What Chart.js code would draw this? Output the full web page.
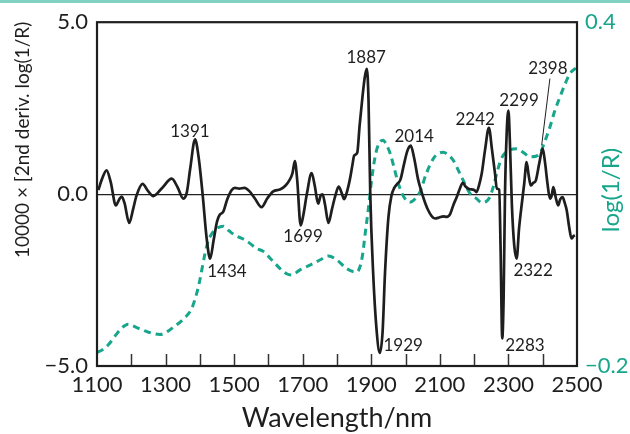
<!DOCTYPE html>
<html><head><meta charset="utf-8">
<script src="https://cdn.jsdelivr.net/npm/chart.js@4.4.1/dist/chart.umd.min.js"></script>
<style>html,body{margin:0;padding:0;background:#fff;} #wrap{width:630px;height:434px;}</style>
</head><body><div id="wrap"><canvas id="c" width="630" height="434"></canvas></div>
<script>
// 2nd derivative (x10000) spectrum
const derivNm = [1104,1115,1128,1140,1155,1165,1172,1180,1194,1205,1215,1233,1248,1264,1290,1318,1335,1352,1362,1372,1386,1396,1408,1420,1430,1440,1450,1458,1468,1480,1493,1502,1515,1530,1545,1560,1580,1597,1614,1635,1650,1661,1670,1677,1684,1694,1702,1712,1726,1735,1745,1752,1758,1765,1775,1785,1795,1805,1813,1821,1830,1838,1845,1850,1859,1866,1874,1881,1887,1892,1897,1905,1915,1925,1933,1940,1950,1959,1967,1976,1985,1995,2005,2015,2025,2036,2047,2058,2066,2076,2086,2098,2110,2120,2130,2140,2149,2158,2167,2175,2185,2200,2207,2214,2222,2232,2243,2252,2261,2266,2273,2277,2282,2286,2290,2295,2300,2304,2310,2317,2324,2331,2339,2346,2353,2359,2365,2372,2380,2390,2400,2407,2414,2421,2426,2431,2438,2445,2451,2458,2464,2470,2477,2484,2490,2494];
const derivVal = [0.12,0.45,0.69,0.35,-0.33,-0.15,-0.07,-0.25,-0.84,-0.45,-0.05,0.30,0.10,-0.06,0.18,0.45,0.20,-0.13,0.05,0.75,1.59,1.10,0.00,-1.30,-1.88,-1.35,-0.80,-0.60,-0.52,-0.15,0.12,0.18,0.16,0.18,0.08,-0.12,-0.38,-0.12,0.08,0.14,0.25,0.40,0.60,0.96,0.40,-0.91,-0.60,0.00,0.61,0.25,-0.28,-0.05,-0.01,-0.30,-0.84,-0.45,-0.05,0.22,0.05,-0.15,0.10,0.45,0.85,1.12,1.20,2.00,2.80,3.40,3.64,2.70,0.00,-2.20,-3.90,-4.62,-4.00,-2.30,-0.67,-0.04,0.18,0.30,0.42,0.85,1.25,1.41,1.05,0.45,0.05,-0.28,-0.47,-0.64,-0.71,-0.68,-0.65,-0.66,-0.58,-0.30,-0.09,0.15,0.33,0.22,0.15,0.12,0.06,0.25,0.59,1.30,1.93,1.30,0.59,0.16,0.13,-1.50,-4.20,-3.00,0.00,1.80,2.43,1.60,-0.30,-1.50,-1.88,-1.00,-0.28,0.30,0.93,0.55,0.25,0.32,0.40,0.90,1.32,0.90,0.30,-0.13,-0.05,0.20,-0.10,-0.33,-0.15,-0.09,-0.25,-0.47,-0.95,-1.29,-1.22,-1.20];

// log(1/R) spectrum
const logNm = [1100,1115,1133,1150,1170,1191,1205,1220,1250,1284,1305,1323,1345,1365,1376,1390,1400,1408,1415,1425,1432,1445,1468,1485,1503,1525,1546,1565,1585,1610,1634,1653,1668,1690,1721,1750,1775,1800,1828,1857,1868,1875,1883,1891,1900,1911,1922,1935,1945,1955,1967,1979,1995,2013,2028,2042,2060,2081,2096,2110,2125,2139,2155,2168,2188,2207,2222,2235,2246,2256,2266,2275,2285,2300,2324,2345,2363,2380,2392,2405,2421,2435,2450,2465,2479,2499];
const logVal = [-0.176,-0.172,-0.163,-0.150,-0.135,-0.127,-0.130,-0.134,-0.141,-0.145,-0.140,-0.132,-0.122,-0.110,-0.100,-0.075,-0.050,-0.025,-0.004,0.020,0.028,0.038,0.044,0.036,0.028,0.022,0.014,0.005,0.000,-0.015,-0.030,-0.039,-0.041,-0.033,-0.024,-0.015,-0.008,-0.015,-0.030,-0.036,-0.025,-0.004,0.035,0.072,0.120,0.165,0.188,0.194,0.185,0.171,0.145,0.118,0.095,0.086,0.092,0.104,0.135,0.162,0.171,0.173,0.168,0.159,0.140,0.124,0.101,0.092,0.085,0.087,0.095,0.113,0.136,0.155,0.168,0.176,0.179,0.172,0.165,0.166,0.171,0.190,0.217,0.245,0.269,0.292,0.310,0.321];

// axis ticks
const xTickValues = [1100,1300,1500,1700,1900,2100,2300,2500];
const xMinorTicks = [1200,1300,1400,1500,1600,1700,1800,1900,2000,2100,2200,2300,2400];
const yLeftTicks = [-5,0,5];
const yRightTicks = [-0.2,0.4];

// peak annotations (text, position in data units)
const peakText = ['1391','1434','1699','1887','1929','2014','2242','2299','2322','2283','2398'];
const peakNm   = [1371,1479,1701,1885,1993,2025,2203,2331,2372,2348,2415];
const peakVal  = [1.82,-2.24,-1.23,3.97,-4.39,1.68,2.17,2.72,-2.21,-4.39,3.65];
const leaderNm = [2421,2397];
const leaderVal = [3.36,1.42];

const TEAL = '#17a68b';
const INK = '#1e1e1e';
const FONT = 'Lato, "Open Sans", sans-serif';

const fmt = v => (v < 0 ? '\u2212' : '') + Math.abs(v).toFixed(1);

const decor = {
  id: 'decor',
  afterDraw(chart) {
    const ctx = chart.ctx, a = chart.chartArea;
    const xs = chart.scales.x, ys = chart.scales.y;
    ctx.save();
    // top band
    ctx.fillStyle = '#80d1c1';
    ctx.fillRect(0, 0, 630, 3);
    // inner ticks
    ctx.strokeStyle = '#333';
    ctx.lineWidth = 1.5;
    xMinorTicks.forEach(t => {
      const px = Math.round(xs.getPixelForValue(t)) + 0.5;
      ctx.beginPath(); ctx.moveTo(px, a.bottom); ctx.lineTo(px, a.bottom - 12); ctx.stroke();
    });
    // frame
    ctx.strokeStyle = INK;
    ctx.lineWidth = 2.2;
    ctx.strokeRect(a.left, a.top, a.right - a.left, a.bottom - a.top);
    // peak labels
    ctx.fillStyle = INK;
    ctx.font = '17px ' + FONT;
    ctx.textAlign = 'center';
    ctx.textBaseline = 'middle';
    peakText.forEach((t, i) => {
      ctx.fillText(t, xs.getPixelForValue(peakNm[i]), ys.getPixelForValue(peakVal[i]));
    });
    // leader line
    ctx.strokeStyle = INK; ctx.lineWidth = 1;
    ctx.beginPath();
    ctx.moveTo(xs.getPixelForValue(leaderNm[0]), ys.getPixelForValue(leaderVal[0]));
    ctx.lineTo(xs.getPixelForValue(leaderNm[1]), ys.getPixelForValue(leaderVal[1]));
    ctx.stroke();
    // left title
    ctx.save();
    ctx.translate(23, 258);
    ctx.rotate(-Math.PI / 2);
    ctx.font = '19px ' + FONT;
    ctx.textAlign = 'left';
    ctx.fillStyle = INK;
    ctx.fillText('10000 \u00d7 [2nd deriv. log(1/R)', 0, 0);
    ctx.restore();
    // right title
    ctx.save();
    ctx.translate(611, 190);
    ctx.rotate(-Math.PI / 2);
    ctx.font = '24px ' + FONT;
    ctx.textAlign = 'center';
    ctx.fillStyle = TEAL;
    ctx.fillText('log(1/R)', 0, 0);
    ctx.restore();
    // x title
    ctx.font = '27px ' + FONT;
    ctx.fillStyle = INK;
    ctx.textAlign = 'center';
    ctx.fillText('Wavelength/nm', (a.left + a.right) / 2, 418);
    ctx.restore();
  }
};

new Chart(document.getElementById('c'), {
  type: 'line',
  data: {
    datasets: [
      {
        data: derivNm.map((x, i) => ({x, y: derivVal[i]})),
        borderColor: INK, borderWidth: 2.7, pointRadius: 0,
        cubicInterpolationMode: 'monotone', yAxisID: 'y', fill: false
      },
      {
        data: logNm.map((x, i) => ({x, y: logVal[i]})),
        borderColor: TEAL, borderWidth: 3, borderDash: [7, 5], pointRadius: 0,
        cubicInterpolationMode: 'monotone', yAxisID: 'y2', fill: false
      }
    ]
  },
  options: {
    responsive: false, animation: false, devicePixelRatio: 1,
    layout: { padding: { top: 21, left: 0, right: 0, bottom: 0 } },
    plugins: { legend: { display: false }, tooltip: { enabled: false } },
    scales: {
      x: {
        type: 'linear', min: 1100, max: 2500,
        afterFit: s => { s.height = 68; },
        afterBuildTicks: s => { s.ticks = xTickValues.map(v => ({value: v})); },
        grid: { display: false, drawTicks: false },
        border: { display: false },
        ticks: { color: INK, font: { family: FONT, size: 22 }, padding: 6, maxRotation: 0, autoSkip: false,
                 callback: v => String(v) }
      },
      y: {
        position: 'left', min: -5, max: 5,
        afterFit: s => { s.width = 97; },
        afterBuildTicks: s => { s.ticks = yLeftTicks.map(v => ({value: v})); },
        grid: { drawTicks: false, color: c => (c.tick && c.tick.value === 0 ? '#222' : 'rgba(0,0,0,0)'), lineWidth: 1.2 },
        border: { display: false },
        ticks: { color: INK, font: { family: FONT, size: 22 }, padding: 9, callback: v => fmt(v) }
      },
      y2: {
        position: 'right', min: -0.2, max: 0.4,
        afterFit: s => { s.width = 53; },
        afterBuildTicks: s => { s.ticks = yRightTicks.map(v => ({value: v})); },
        grid: { display: false, drawTicks: false },
        border: { display: false },
        ticks: { color: TEAL, font: { family: FONT, size: 22 }, padding: 8, callback: v => fmt(v) }
      }
    }
  },
  plugins: [decor]
});
</script>
</body></html>
